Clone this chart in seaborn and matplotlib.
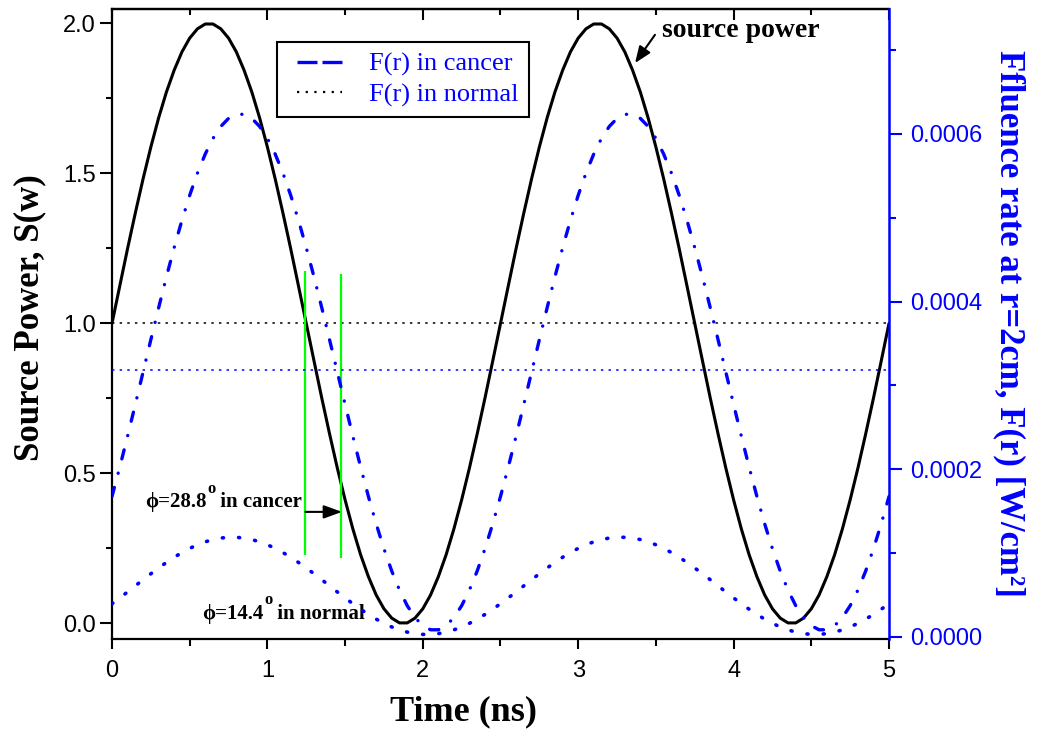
import numpy as np
import matplotlib
matplotlib.use("Agg")
import matplotlib.pyplot as plt
import seaborn as sns
from matplotlib.lines import Line2D
from matplotlib.ticker import MultipleLocator, FormatStrFormatter

sns.set_theme(style="ticks")
plt.rcParams["font.family"] = ["Liberation Sans", "DejaVu Sans"]
plt.rcParams["axes.edgecolor"] = "black"
SERIF = ["Liberation Serif", "DejaVu Serif"]

# sampling instants (ns)
time_ns = [round(0.05 * i, 2) for i in range(101)]

# source power S(w), left axis
source_power = [
    1.000, 1.125, 1.249, 1.368, 1.482, 1.588, 1.685, 1.771, 1.844, 1.905,
    1.951, 1.982, 1.998, 1.998, 1.982, 1.951, 1.905, 1.844, 1.771, 1.685,
    1.588, 1.482, 1.368, 1.249, 1.125, 1.000, 0.875, 0.751, 0.632, 0.518,
    0.412, 0.315, 0.229, 0.156, 0.095, 0.049, 0.018, 0.002, 0.002, 0.018,
    0.049, 0.095, 0.156, 0.229, 0.315, 0.412, 0.518, 0.632, 0.751, 0.875,
    1.000, 1.125, 1.249, 1.368, 1.482, 1.588, 1.685, 1.771, 1.844, 1.905,
    1.951, 1.982, 1.998, 1.998, 1.982, 1.951, 1.905, 1.844, 1.771, 1.685,
    1.588, 1.482, 1.368, 1.249, 1.125, 1.000, 0.875, 0.751, 0.632, 0.518,
    0.412, 0.315, 0.229, 0.156, 0.095, 0.049, 0.018, 0.002, 0.002, 0.018,
    0.049, 0.095, 0.156, 0.229, 0.315, 0.412, 0.518, 0.632, 0.751, 0.875,
    1.000,
]

# fluence rate at r = 2 cm in cancer tissue, in units of 1e-4 W/cm^2
fluence_cancer_e4 = [
    1.676, 2.026, 2.394, 2.774, 3.160, 3.546, 3.926, 4.294, 4.644, 4.970,
    5.268, 5.533, 5.760, 5.947, 6.089, 6.185, 6.234, 6.234, 6.185, 6.089,
    5.947, 5.760, 5.533, 5.268, 4.970, 4.644, 4.294, 3.926, 3.546, 3.160,
    2.774, 2.394, 2.026, 1.676, 1.350, 1.052, 0.787, 0.560, 0.373, 0.231,
    0.135, 0.086, 0.086, 0.135, 0.231, 0.373, 0.560, 0.787, 1.052, 1.350,
    1.676, 2.026, 2.394, 2.774, 3.160, 3.546, 3.926, 4.294, 4.644, 4.970,
    5.268, 5.533, 5.760, 5.947, 6.089, 6.185, 6.234, 6.234, 6.185, 6.089,
    5.947, 5.760, 5.533, 5.268, 4.970, 4.644, 4.294, 3.926, 3.546, 3.160,
    2.774, 2.394, 2.026, 1.676, 1.350, 1.052, 0.787, 0.560, 0.373, 0.231,
    0.135, 0.086, 0.086, 0.135, 0.231, 0.373, 0.560, 0.787, 1.052, 1.350,
    1.676,
]

# fluence rate at r = 2 cm in normal tissue, in units of 1e-4 W/cm^2
fluence_normal_e4 = [
    0.397, 0.466, 0.537, 0.610, 0.683, 0.754, 0.823, 0.889, 0.951, 1.007,
    1.057, 1.100, 1.135, 1.162, 1.180, 1.189, 1.189, 1.180, 1.162, 1.135,
    1.100, 1.057, 1.007, 0.951, 0.889, 0.823, 0.754, 0.683, 0.610, 0.537,
    0.466, 0.397, 0.331, 0.269, 0.213, 0.163, 0.120, 0.085, 0.058, 0.040,
    0.031, 0.031, 0.040, 0.058, 0.085, 0.120, 0.163, 0.213, 0.269, 0.331,
    0.397, 0.466, 0.537, 0.610, 0.683, 0.754, 0.823, 0.889, 0.951, 1.007,
    1.057, 1.100, 1.135, 1.162, 1.180, 1.189, 1.189, 1.180, 1.162, 1.135,
    1.100, 1.057, 1.007, 0.951, 0.889, 0.823, 0.754, 0.683, 0.610, 0.537,
    0.466, 0.397, 0.331, 0.269, 0.213, 0.163, 0.120, 0.085, 0.058, 0.040,
    0.031, 0.031, 0.040, 0.058, 0.085, 0.120, 0.163, 0.213, 0.269, 0.331,
    0.397,
]

# DC levels
source_dc = 1.0
cancer_dc_e4 = 3.18

# phase markers (time, lower and upper ends on the S(w) scale)
marker_t = [1.245, 1.475]
marker_lo = [0.229, 0.218]
marker_hi = [1.175, 1.165]

legend_labels = ["F(r) in cancer", "F(r) in normal"]

fig = plt.figure(figsize=(10.37, 7.29), dpi=100)
ax = fig.add_axes([112 / 1037, 1 - 638.5 / 729, 777 / 1037, 629.5 / 729])
ax2 = ax.twinx()

# left axis: source power, DC level, phase markers
sns.lineplot(x=time_ns, y=source_power, ax=ax, color="black", linewidth=2.2)
ax.axhline(source_dc, color="black", lw=1.1, ls=(0, (1.6, 3.4)))
ax.vlines(marker_t, marker_lo, marker_hi, colors="#00ff00", lw=1.6)

# right axis: fluence rates
cancer = np.array(fluence_cancer_e4) * 1e-4
normal = np.array(fluence_normal_e4) * 1e-4
sns.lineplot(x=time_ns, y=cancer, ax=ax2, color="blue", linewidth=2.4)
ln = ax2.lines[-1]
ln.set_linestyle((0, (2.8, 4.4, 0.05, 4.4)))
ln.set_dash_capstyle("round")
sns.lineplot(x=time_ns, y=normal, ax=ax2, color="blue", linewidth=2.6)
ln = ax2.lines[-1]
ln.set_linestyle((0, (0.3, 4.2)))
ln.set_dash_capstyle("round")
ax2.axhline(cancer_dc_e4 * 1e-4, color="blue", lw=1.1, ls=(0, (1.6, 3.4)))

# limits
ax.set_xlim(0, 5)
ax.set_ylim(-0.05, 2.048)
ax2.set_ylim(-0.0000018, 0.000749)

# ticks
ax.xaxis.set_major_locator(MultipleLocator(1))
ax.xaxis.set_minor_locator(MultipleLocator(0.5))
ax.yaxis.set_major_locator(MultipleLocator(0.5))
ax.yaxis.set_minor_locator(MultipleLocator(0.25))
ax.yaxis.set_major_formatter(FormatStrFormatter("%.1f"))
ax.xaxis.set_major_formatter(FormatStrFormatter("%d"))
ax2.yaxis.set_major_locator(MultipleLocator(0.0002))
ax2.yaxis.set_minor_locator(MultipleLocator(0.0001))
ax2.yaxis.set_major_formatter(FormatStrFormatter("%.4f"))

ax.tick_params(axis="x", which="major", direction="out", length=7.5, width=1.5,
               pad=8, labelsize=17, bottom=True, top=False, colors="black")
ax.tick_params(axis="x", which="minor", direction="out", length=5, width=1.5,
               bottom=True, top=False, colors="black")
ax.tick_params(axis="y", which="major", direction="out", length=8.5, width=1.5,
               pad=3, labelsize=17, left=True, right=False, colors="black")
ax.tick_params(axis="y", which="minor", direction="out", length=4.5, width=1.5,
               left=True, right=False, colors="black")
ax2.tick_params(axis="y", which="major", direction="out", length=9, width=1.5,
                pad=6, labelsize=17, colors="blue")
ax2.tick_params(axis="y", which="minor", direction="out", length=5, width=1.5,
                colors="blue")

top = ax.secondary_xaxis("top")
top.xaxis.set_major_locator(MultipleLocator(1))
top.xaxis.set_minor_locator(MultipleLocator(0.5))
top.tick_params(axis="x", which="major", direction="in", length=8, width=1.5,
                labeltop=False, colors="black")
top.tick_params(axis="x", which="minor", direction="in", length=4.5, width=1.5,
                labeltop=False, colors="black")
top.spines["top"].set_linewidth(1.6)
top.spines["top"].set_color("black")

# spines
for s in ["left", "bottom", "top"]:
    ax.spines[s].set_linewidth(1.6)
    ax.spines[s].set_color("black")
ax.spines["right"].set_visible(False)
for s in ["left", "bottom", "top"]:
    ax2.spines[s].set_visible(False)
ax2.spines["right"].set_visible(True)
ax2.spines["right"].set_color("blue")
ax2.spines["right"].set_linewidth(1.8)

# axis labels
ax.set_xlabel("Time (ns)", fontsize=26, fontweight="bold", family=SERIF,
              color="black")
ax.xaxis.set_label_coords(0.453, -0.130)
ax.xaxis.label.set_va("baseline")
ax.set_ylabel("Source Power, S(w)", fontsize=25, fontweight="bold",
              family=SERIF, color="black")
ax.yaxis.set_label_coords(-0.085, 0.51)
ax2.set_ylabel("Ffluence rate at r=2cm, F(r) [W/cm\u00b2]", fontsize=25,
               fontweight="bold", family=SERIF, color="blue",
               rotation=270, va="bottom")
ax2.yaxis.set_label_coords(1.134, 0.5)

# legend: handle dash patterns begin with a short blank so the marks sit
# inset from the frame
handles = [
    Line2D([], [], color="blue", lw=2.4, ls=(14.5, (6, 1.5, 6, 4))),
    Line2D([], [], color="black", lw=1.6,
           ls=(26.0, (1, 2.9, 1, 2.9, 1, 2.9, 1, 2.9, 1, 2.9, 1, 10))),
]
leg = ax2.legend(handles, legend_labels, loc="upper left",
                 bbox_to_anchor=(0.212, 0.948), borderaxespad=0,
                 frameon=True, fancybox=False, edgecolor="black",
                 framealpha=1, prop=dict(family=SERIF, size=19),
                 handlelength=2.08, handletextpad=1.0, borderpad=0.4,
                 labelspacing=0.25)
for t in leg.get_texts():
    t.set_color("blue")
leg.get_frame().set_linewidth(1.5)


def phase_label(x, y, value, tail):
    main = ax.text(x, y, "\u03d5=" + value, fontsize=15, fontweight="bold",
                   family=SERIF, va="baseline", ha="left", color="black")
    sup = ax.annotate("o", xy=(1, y), xycoords=(main, "data"),
                      xytext=(0.5, 10.5), textcoords="offset points",
                      fontsize=12, fontweight="bold", family=SERIF,
                      va="baseline", ha="left", color="black")
    ax.annotate(tail, xy=(1, y), xycoords=(sup, "data"), xytext=(0, 0),
                textcoords="offset points", fontsize=15, fontweight="bold",
                family=SERIF, va="baseline", ha="left", color="black")


phase_label(0.212, 0.387, "28.8", " in cancer")
phase_label(0.579, 0.015, "14.4", " in normal")

ax.annotate("", xy=(1.48, 0.372), xytext=(1.245, 0.372),
            arrowprops=dict(arrowstyle="-|>,head_length=0.55,head_width=0.2",
                            color="black", lw=1.5, shrinkA=0, shrinkB=0,
                            mutation_scale=20))

ax.text(3.539, 1.955, "source power", fontsize=20, fontweight="bold",
        family=SERIF, va="baseline", ha="left", color="black")
ax.annotate("", xy=(3.366, 1.868), xytext=(3.494, 1.962),
            arrowprops=dict(arrowstyle="-|>,head_length=0.5,head_width=0.2",
                            color="black", lw=1.5, shrinkA=0, shrinkB=0,
                            mutation_scale=20))

fig.savefig("out.png", dpi=100)
